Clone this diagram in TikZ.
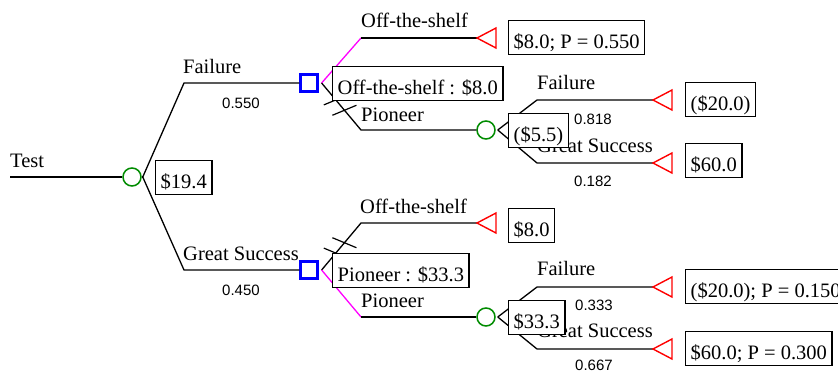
\documentclass[tikz,border=0pt]{standalone}
\usepackage{fontspec}
\setmainfont{Liberation Serif}
\newfontfamily\probfont{Liberation Sans}
\usetikzlibrary{calc}
\definecolor{chgreen}{RGB}{0,140,0}
\definecolor{decblue}{RGB}{0,0,255}
\definecolor{termred}{RGB}{255,0,0}
\definecolor{optmag}{RGB}{255,0,255}
\begin{document}
\begin{tikzpicture}[x=1pt,y=-1pt,
  branch/.style={line width=1.3pt, draw=black},
  optline/.style={line width=1.3pt, draw=optmag},
  chance/.style={circle, draw=chgreen, line width=1.5pt, minimum size=18pt, inner sep=0pt},
  decision/.style={rectangle, draw=decblue, line width=2.2pt, minimum size=17pt, inner sep=0pt},
  terminal/.style={draw=termred, line width=1.4pt, line join=miter},
  lbl/.style={anchor=base west, inner sep=0pt, font=\fontsize{20.5}{24}\selectfont},
  prob/.style={anchor=base west, inner sep=0pt, font=\probfont\fontsize{15}{18}\selectfont},
  valbox/.style={anchor=north west, draw, fill=white, line width=1.4pt, inner xsep=5pt,
    inner ysep=2pt, text height=26pt, text depth=4pt, font=\fontsize{20.5}{24}\selectfont},
  cutmark/.style={line width=1.2pt, draw=black}]

\useasboundingbox (0,0) rectangle (838,375);
\fill[white] (0,0) rectangle (838,375);
\clip (0,0) rectangle (838,375);

% chance and decision nodes
\coordinate (start) at (10,177);
\node[chance]   (c0) at (132,177) {};
\node[decision] (d1) at (309,83)  {};
\node[decision] (d2) at (309,270) {};
\node[chance]   (c1) at (486,130) {};
\node[chance]   (c2) at (486,317) {};

% terminal nodes (apex of each triangle)
\coordinate (t1) at (477,38);
\coordinate (t2) at (653,100);
\coordinate (t3) at (653,163);
\coordinate (t4) at (477,223);
\coordinate (t5) at (653,287);
\coordinate (t6) at (653,349);

% fork points and branch bends
\coordinate (f0) at ($(c0.east)+(1,0)$);
\coordinate (f1) at ($(d1.east)+(3,0)$);
\coordinate (f2) at ($(d2.east)+(3,0)$);
\coordinate (f3) at ($(c1.east)+(2,0)$);
\coordinate (f4) at ($(c2.east)+(2,0)$);
\coordinate (k1) at (184,83);
\coordinate (k2) at (184,270);
\coordinate (k3) at (361,38);
\coordinate (k4) at (361,130);
\coordinate (k5) at (537,100);
\coordinate (k6) at (537,163);
\coordinate (k7) at (361,223);
\coordinate (k8) at (361,317);
\coordinate (k9) at (537,287);
\coordinate (k10) at (537,349);

% branches
\draw[branch] (start) -- (c0.west);
\draw[branch] (c0.east) -- (f0);
\draw[branch] (f0) -- (k1) -- (d1.west);
\draw[branch] (f0) -- (k2) -- (d2.west);
\draw[optline] (f1) -- (k3);
\draw[branch] (k3) -- (t1);
\draw[branch] (f1) -- (k4) -- (c1.west);
\draw[branch] (f3) -- (k5) -- (t2);
\draw[branch] (f3) -- (k6) -- (t3);
\draw[branch] (f2) -- (k7) -- (t4);
\draw[optline] (f2) -- (k8);
\draw[branch] (k8) -- (c2.west);
\draw[branch] (f4) -- (k9) -- (t5);
\draw[branch] (f4) -- (k10) -- (t6);

% marks on the rejected alternatives
\draw[cutmark] ($(f1)!0.36!(k4)$) +(-12,5) -- +(12,-5);
\draw[cutmark] ($(f1)!0.58!(k4)$) +(-12,5) -- +(12,-5);
\draw[cutmark] ($(f2)!0.36!(k7)$) +(-12,-5) -- +(12,5);
\draw[cutmark] ($(f2)!0.58!(k7)$) +(-12,-5) -- +(12,5);

% terminal triangles
\foreach \t in {t1,t2,t3,t4,t5,t6}
  \draw[terminal] (\t) -- ++(19,-10) -- ++(0,20) -- cycle;

% branch labels
\node[lbl] (lTest) at (10,167) {Test};
\node[lbl] (lF0) at (183,73) {Failure};
\node[lbl] (lS0) at (183,260) {Great Success};
\node[lbl] (lO1) at (361,27) {Off-the-shelf};
\node[lbl] (lP1) at (361,121) {Pioneer};
\node[lbl] (lF1) at (537,89) {Failure};
\node[lbl] (lS1) at (537,152) {Great Success};
\node[lbl] (lO2) at (360,213) {Off-the-shelf};
\node[lbl] (lP2) at (361,307) {Pioneer};
\node[lbl] (lF2) at (537,275) {Failure};
\node[lbl] (lS2) at (537,337) {Great Success};

% probabilities
\node[prob] (p0a) at (222,108) {0.550};
\node[prob] (p0b) at (222,295) {0.450};
\node[prob] (p1a) at (574,124) {0.818};
\node[prob] (p1b) at (574,186) {0.182};
\node[prob] (p2a) at (575,310) {0.333};
\node[prob] (p2b) at (575,370) {0.667};

% value boxes
\node[valbox] (b0) at (155,160) {\$19.4};
\node[valbox] (b1) at (508,20) {\$8.0; P = 0.550};
\node[valbox] (b2) at (332,66) {Off-the-shelf : \$8.0};
\node[valbox] (b3) at (508,113) {(\$5.5)};
\node[valbox] (b4) at (685,82) {(\$20.0)};
\node[valbox] (b5) at (685,143) {\$60.0};
\node[valbox] (b6) at (508,208) {\$8.0};
\node[valbox] (b7) at (332,253) {Pioneer : \$33.3};
\node[valbox] (b8) at (508,300) {\$33.3};
\node[valbox] (b9) at (685,269) {(\$20.0); P = 0.150};
\node[valbox] (b10) at (685,331) {\$60.0; P = 0.300};
\end{tikzpicture}
\end{document}
